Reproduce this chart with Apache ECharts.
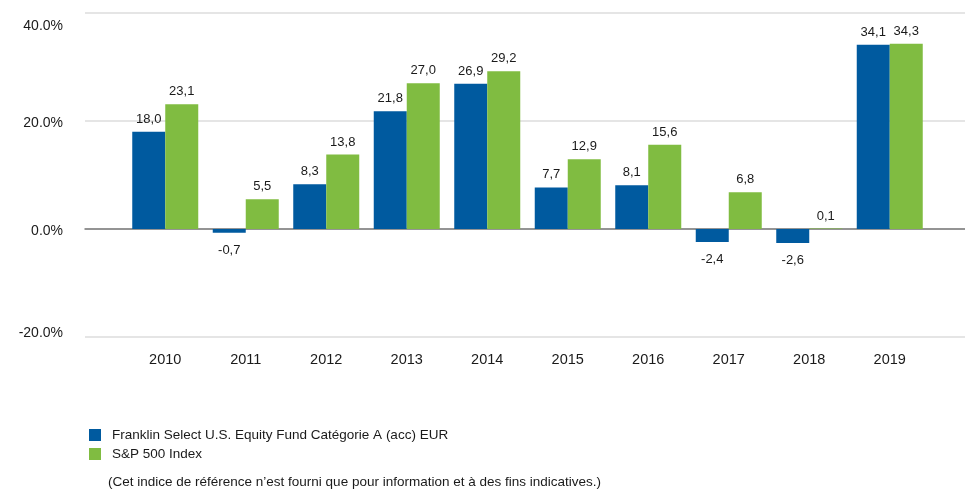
<!DOCTYPE html>
<html>
<head>
<meta charset="utf-8">
<script src="https://cdn.jsdelivr.net/npm/echarts@6/dist/echarts.min.js"></script>
<style>
  html, body { margin: 0; padding: 0; background: #fff; }
  #chart { width: 965px; height: 490px; }
</style>
</head>
<body>
<div id="chart"></div>
<script>
const years = ["2010", "2011", "2012", "2013", "2014", "2015", "2016", "2017", "2018", "2019"];
const fundName = "Franklin Select U.S. Equity Fund Catégorie A (acc) EUR";
const indexName = "S&P 500 Index";
const fundValues = [18.0, -0.7, 8.3, 21.8, 26.9, 7.7, 8.1, -2.4, -2.6, 34.1];
const indexValues = [23.1, 5.5, 13.8, 27.0, 29.2, 12.9, 15.6, 6.8, 0.1, 34.3];
const yTicks = { min: -20, max: 40, interval: 20 };
const note = "(Cet indice de référence n’est fourni que pour information et à des fins indicatives.)";

const FONT = "'Liberation Sans', Arial, sans-serif";

const chart = echarts.init(document.getElementById("chart"), null, { renderer: "canvas" });

function barData(values) {
    return values.map(v => ({
        value: v,
        label: {
            position: v < 0 ? "bottom" : "top",
            distance: v < 0 ? 11 : 6
        }
    }));
}

function barSeries(name, values, color) {
    return {
        name: name,
        type: "bar",
        xAxisIndex: 0,
        yAxisIndex: 0,
        barWidth: 33,
        barGap: "0%",
        itemStyle: { color: color },
        label: {
            show: true,
            fontFamily: FONT,
            fontSize: 13,
            color: "#1a1a1a",
            formatter: p => p.value.toFixed(1).replace(".", ",")
        },
        data: barData(values)
    };
}

// the top and bottom tick labels sit a little inside the plot in the original
const tickLabelStyle = { fontFamily: FONT, fontSize: 14, color: "#1a1a1a" };
function tickLabel(v) {
    const text = v.toFixed(1) + "%";
    if (v === yTicks.max) return "{top|" + text + "}";
    if (v === yTicks.min) return "{bottom|" + text + "}";
    return "{mid|" + text + "}";
}

chart.setOption({
    animation: false,
    textStyle: { fontFamily: FONT },
    grid: [
        { left: 125, right: 35, top: 13, bottom: 153 },
        { left: 85, right: 0, top: 13, bottom: 153 }
    ],
    xAxis: [
        {
            type: "category",
            gridIndex: 0,
            data: years,
            axisLine: { show: false, onZero: false },
            axisTick: { show: false },
            axisLabel: {
                margin: 15,
                fontFamily: FONT,
                fontSize: 14.5,
                color: "#1a1a1a"
            }
        },
        {
            type: "value",
            gridIndex: 1,
            min: 0,
            max: 1,
            axisLine: { show: true, onZero: true, lineStyle: { color: "#7a7a7a", width: 1.5 } },
            axisTick: { show: false },
            axisLabel: { show: false },
            splitLine: { show: false }
        }
    ],
    yAxis: [
        {
            type: "value",
            gridIndex: 0,
            min: yTicks.min,
            max: yTicks.max,
            interval: yTicks.interval,
            axisLine: { show: false },
            axisTick: { show: false },
            axisLabel: { show: false },
            splitLine: { show: false }
        },
        {
            type: "value",
            gridIndex: 1,
            min: yTicks.min,
            max: yTicks.max,
            interval: yTicks.interval,
            axisLine: { show: false },
            axisTick: { show: false },
            axisLabel: {
                margin: 22,
                formatter: tickLabel,
                rich: {
                    top: Object.assign({ padding: [26, 0, 0, 0] }, tickLabelStyle),
                    mid: Object.assign({ padding: [4, 0, 0, 0] }, tickLabelStyle),
                    bottom: Object.assign({ padding: [0, 0, 8, 0] }, tickLabelStyle)
                }
            },
            splitLine: { lineStyle: { color: "#dcdcdc", width: 1.5 } }
        }
    ],
    legend: {
        orient: "vertical",
        left: 84,
        top: 423,
        itemWidth: 12,
        itemHeight: 12,
        itemGap: 5,
        icon: "rect",
        textStyle: { fontFamily: FONT, fontSize: 13.5, lineHeight: 14, color: "#1a1a1a", padding: [0, 0, 0, 6] },
        data: [fundName, indexName]
    },
    graphic: [
        {
            type: "text",
            left: 108,
            top: 475,
            style: {
                text: note,
                font: "13.5px " + FONT,
                fill: "#1a1a1a"
            }
        }
    ],
    series: [
        barSeries(fundName, fundValues, "#005a9f"),
        barSeries(indexName, indexValues, "#80bc41")
    ]
});
</script>
</body>
</html>
